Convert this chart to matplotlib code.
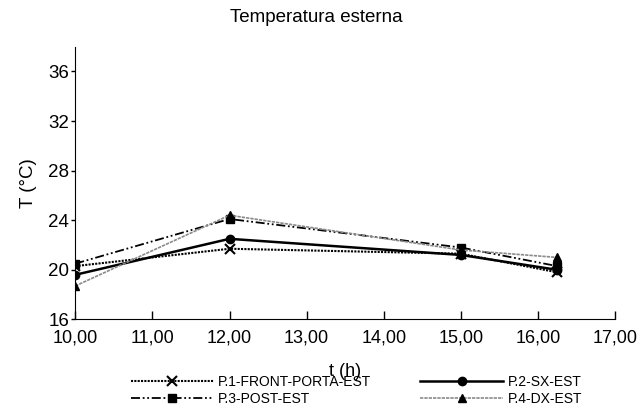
import matplotlib.pyplot as plt
import matplotlib.ticker as mticker

plt.rcParams['font.family'] = ['Liberation Sans', 'DejaVu Sans']

# data
t = [10.0, 12.0, 15.0, 16.25]
p1 = [20.3, 21.7, 21.3, 19.8]   # P.1-FRONT-PORTA-EST
p2 = [19.6, 22.5, 21.2, 20.0]   # P.2-SX-EST
p3 = [20.5, 24.1, 21.8, 20.3]   # P.3-POST-EST
p4 = [18.7, 24.4, 21.6, 21.0]   # P.4-DX-EST
labels = ['P.1-FRONT-PORTA-EST', 'P.2-SX-EST', 'P.3-POST-EST', 'P.4-DX-EST']
yticks = [16, 20, 24, 28, 32, 36]
xticks = [10, 11, 12, 13, 14, 15, 16, 17]

fig = plt.figure(figsize=(6.41, 4.09), dpi=100)
ax = fig.add_axes([0.1175, 0.219, 0.842, 0.667])

l1, = ax.plot(t, p1, color='black', lw=1.5, ls=(0, (1, 0.6)), marker='x',
              ms=7, mew=1.5, label=labels[0])
l2, = ax.plot(t, p2, color='black', lw=1.8, ls='-', marker='o',
              ms=6, label=labels[1])
l3, = ax.plot(t, p3, color='black', lw=1.3, ls=(0, (5, 1.5, 1, 1.5, 1, 1.5)),
              marker='s', ms=6, label=labels[2])
l4, = ax.plot(t, p4, color='#8a8a8a', lw=1.2, ls=(0, (2, 0.6)), marker='^',
              ms=6, mfc='black', mec='black', label=labels[3])

ax.set_xlim(10, 17)
ax.set_ylim(16, 38)
ax.set_xticks(xticks)
ax.set_yticks(yticks)
ax.xaxis.set_major_formatter(mticker.FuncFormatter(lambda v, p: f'{v:.2f}'.replace('.', ',')))

for s in ['top', 'right']:
    ax.spines[s].set_visible(False)
ax.tick_params(axis='x', direction='in', length=5.5, width=1, pad=7, labelsize=13)
ax.tick_params(axis='y', direction='out', length=3, width=1, pad=1.5, labelsize=13.5)

ax.set_xlabel('t (h)', fontsize=13, labelpad=12)
ax.set_ylabel('T (°C)', fontsize=13.5, labelpad=8)
fig.text(0.493, 0.956, 'Temperatura esterna', ha='center', va='center', fontsize=13.5)

fig.legend([l1, l3, l2, l4], [labels[0], labels[2], labels[1], labels[3]],
           ncol=2, loc='center', bbox_to_anchor=(0.556, 0.046), frameon=False,
           fontsize=10, handlelength=6, columnspacing=3.5, handletextpad=0.3,
           labelspacing=0.2)

fig.savefig('out.png', dpi=100)
